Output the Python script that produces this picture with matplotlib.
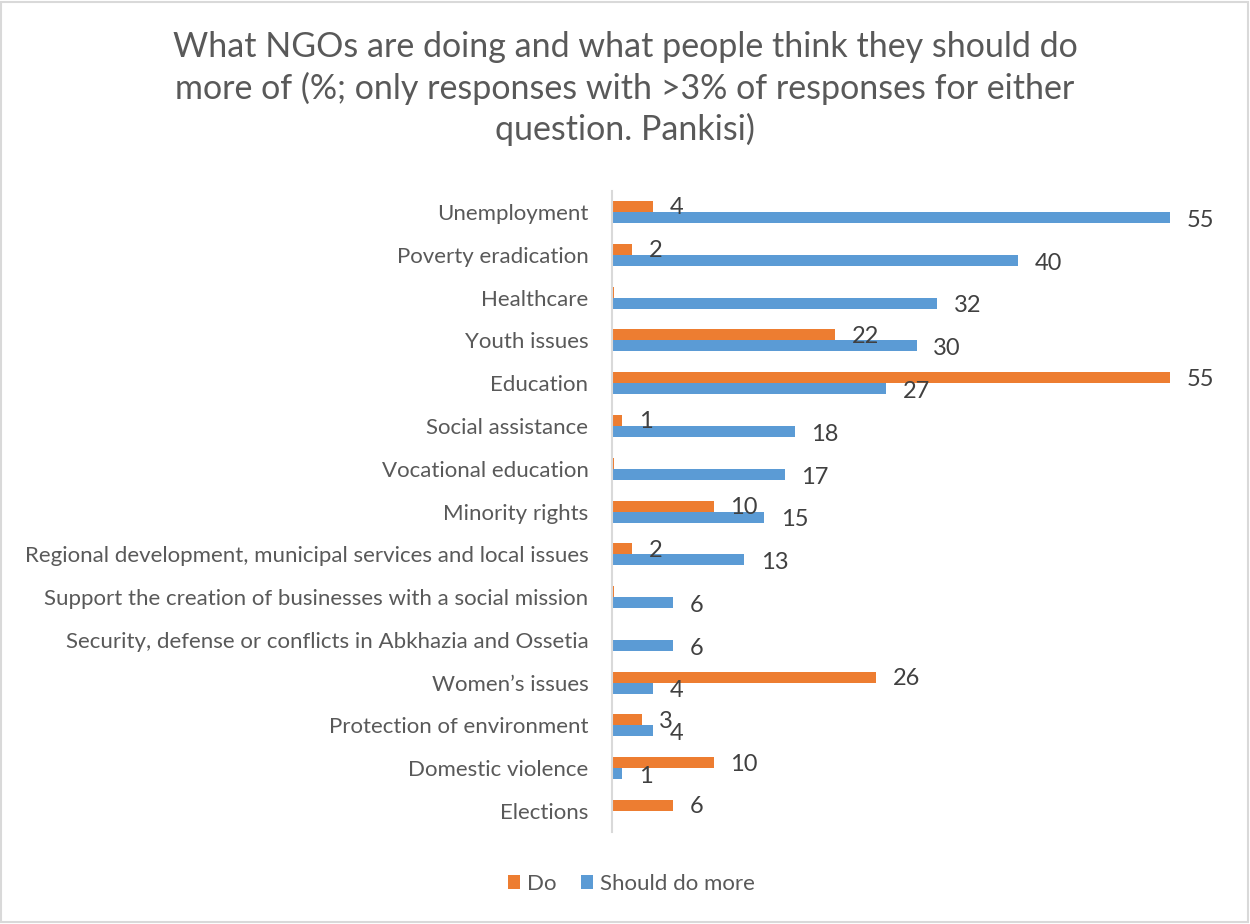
import numpy as np
import matplotlib
matplotlib.use("Agg")
import matplotlib.pyplot as plt
from matplotlib.patches import Rectangle

# -------------------------
# Dados
# -------------------------

categorias = [
    "Unemployment",
    "Poverty eradication",
    "Healthcare",
    "Youth issues",
    "Education",
    "Social assistance",
    "Vocational education",
    "Minority rights",
    "Regional development, municipal services and local issues",
    "Support the creation of businesses with a social mission",
    "Security, defense or conflicts in Abkhazia and Ossetia",
    "Women\u2019s issues",
    "Protection of environment",
    "Domestic violence",
    "Elections",
]

# "Do" (o que as ONGs fazem); valores < 1 aparecem sem rótulo
do_vals = [4, 2, 0.2, 22, 55, 1, 0.2, 10, 2, 0.2, 0, 26, 3, 10, 6]

# "Should do more"
should_vals = [55, 40, 32, 30, 27, 18, 17, 15, 13, 6, 6, 4, 4, 1, 0]

titulo = ("What NGOs are doing and what people think they should do\n"
          "more of (%; only responses with >3% of responses for either\n"
          "question. Pankisi)")

cor_do = "#ED7D31"
cor_should = "#5B9BD5"
cinza_texto = "#595959"
cinza_rotulo = "#404040"

plt.rcParams['font.family'] = ['Lato', 'DejaVu Sans']

# -------------------------
# Figura
# -------------------------

fig = plt.figure(figsize=(12.5, 9.24), dpi=100)
ax = fig.add_axes([0.4896, 0.0991, 0.4872, 0.6946])

y = np.arange(len(categorias))
altura = 0.257

ax.barh(y - altura / 2, do_vals, height=altura, color=cor_do, label="Do")
ax.barh(y + altura / 2, should_vals, height=altura, color=cor_should,
        label="Should do more")

# rótulos de dados
for i, v in enumerate(do_vals):
    if v >= 1:
        ax.annotate(str(v), (v, i - altura / 2), xytext=(12, -1),
                    textcoords="offset points", ha="left", va="center",
                    fontsize=17, color=cinza_rotulo)
for i, v in enumerate(should_vals):
    if v >= 1:
        ax.annotate(str(v), (v, i + altura / 2), xytext=(12, -2),
                    textcoords="offset points", ha="left", va="center",
                    fontsize=17, color=cinza_rotulo)

ax.set_xlim(0, 60)
ax.set_ylim(len(categorias) - 0.5, -0.5)
ax.set_yticks(y)
ax.set_yticklabels(categorias, fontsize=16, color=cinza_texto)
ax.tick_params(axis="y", length=0, pad=17)
ax.set_xticks([])

for lado in ["top", "right", "bottom"]:
    ax.spines[lado].set_visible(False)
ax.spines["left"].set_color("#D9D9D9")
ax.spines["left"].set_linewidth(1.5)

fig.text(0.5, 0.966, titulo, ha="center", va="top", fontsize=24.5,
         color=cinza_texto, linespacing=1.3)

fig.legend(loc="center", bbox_to_anchor=(0.505, 0.0433), ncol=2,
           frameon=False, fontsize=16, handlelength=0.55, handleheight=0.55,
           handletextpad=0.3, columnspacing=1.1, labelcolor=cinza_texto)

# borda do gráfico
fig.patches.append(Rectangle((0.001, 0.002), 0.997, 0.996,
                             transform=fig.transFigure, fill=False,
                             edgecolor="#D9D9D9", linewidth=1.5))

fig.savefig("out.png", dpi=100)
